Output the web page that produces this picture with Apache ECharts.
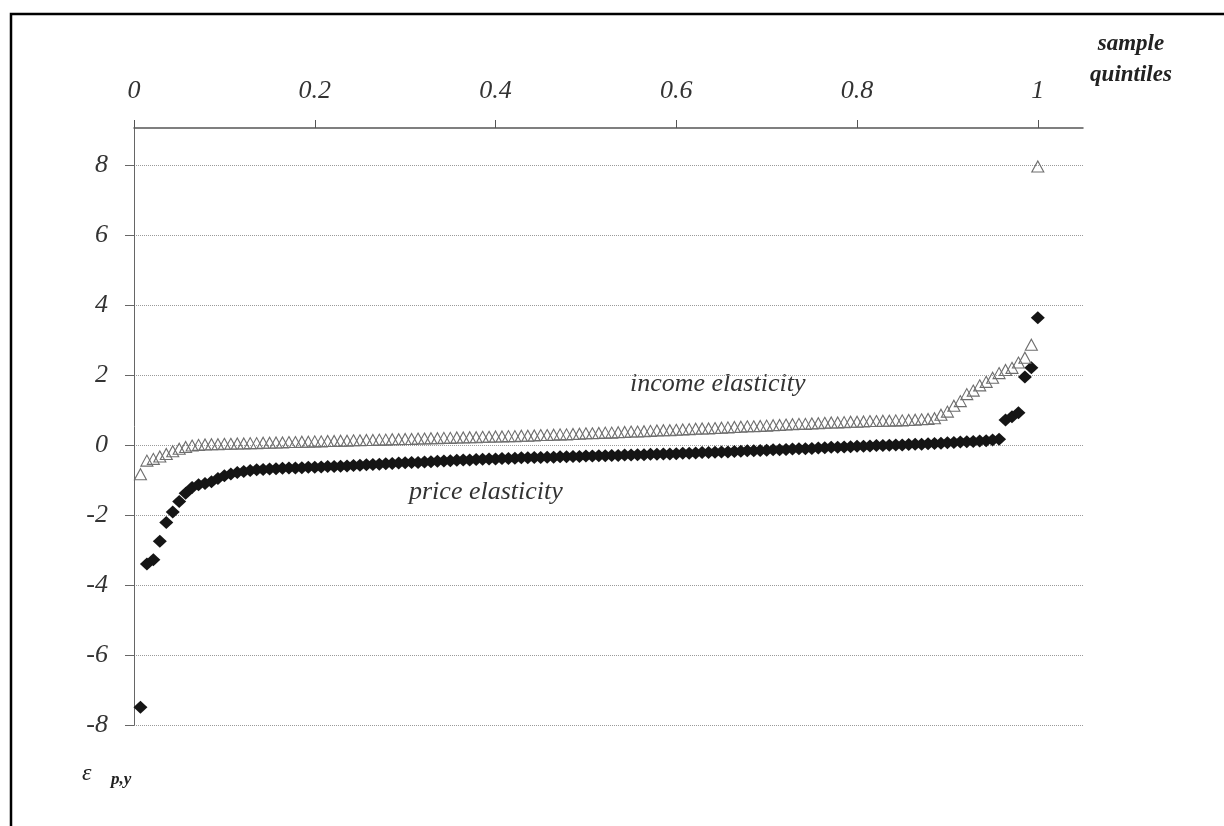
<!DOCTYPE html>
<html>
<head>
<meta charset="utf-8">
<script src="https://cdn.jsdelivr.net/npm/echarts@6/dist/echarts.min.js"></script>
<style>
html,body{margin:0;padding:0;background:#fff;}
#chart{width:1224px;height:826px;}
</style>
</head>
<body>
<div id="chart"></div>
<script>
// Tick labels
var xTickValues = [0, 0.2, 0.4, 0.6, 0.8, 1];
var yTickValues = [-8, -6, -4, -2, 0, 2, 4, 6, 8];

// Sorted price elasticities (black diamonds), in sample order
var priceElasticity = [
  -7.49, -3.40, -3.28, -2.75, -2.22, -1.92, -1.62, -1.38, -1.22, -1.14,
  -1.10, -1.05, -0.96, -0.88, -0.83, -0.79, -0.76, -0.73, -0.71, -0.70,
  -0.69, -0.68, -0.67, -0.66, -0.66, -0.65, -0.64, -0.64, -0.63, -0.62,
  -0.62, -0.61, -0.60, -0.59, -0.58, -0.57, -0.56, -0.55, -0.54, -0.53,
  -0.52, -0.51, -0.50, -0.50, -0.49, -0.48, -0.47, -0.46, -0.45, -0.44,
  -0.43, -0.43, -0.42, -0.41, -0.40, -0.40, -0.39, -0.39, -0.38, -0.37,
  -0.37, -0.36, -0.36, -0.35, -0.35, -0.34, -0.34, -0.33, -0.33, -0.32,
  -0.32, -0.31, -0.31, -0.30, -0.30, -0.29, -0.29, -0.28, -0.28, -0.27,
  -0.27, -0.26, -0.26, -0.25, -0.24, -0.24, -0.23, -0.22, -0.22, -0.21,
  -0.20, -0.20, -0.19, -0.18, -0.17, -0.17, -0.16, -0.15, -0.14, -0.14,
  -0.13, -0.12, -0.11, -0.11, -0.10, -0.09, -0.08, -0.07, -0.07, -0.06,
  -0.05, -0.04, -0.04, -0.03, -0.02, -0.02, -0.01, 0.00, 0.00, 0.01,
  0.02, 0.02, 0.03, 0.04, 0.05, 0.06, 0.07, 0.08, 0.09, 0.10,
  0.11, 0.12, 0.14, 0.16, 0.71, 0.80, 0.92, 1.94, 2.20, 3.63
];

// Sorted income elasticities (open triangles), in sample order
var incomeElasticity = [
  -0.84, -0.45, -0.40, -0.33, -0.26, -0.18, -0.11, -0.06, -0.02, 0.00,
  0.01, 0.02, 0.02, 0.03, 0.03, 0.04, 0.04, 0.05, 0.05, 0.06,
  0.06, 0.07, 0.07, 0.08, 0.08, 0.09, 0.09, 0.10, 0.10, 0.11,
  0.11, 0.12, 0.12, 0.13, 0.13, 0.14, 0.14, 0.15, 0.15, 0.16,
  0.16, 0.17, 0.17, 0.18, 0.18, 0.19, 0.19, 0.20, 0.20, 0.21,
  0.21, 0.22, 0.22, 0.23, 0.23, 0.24, 0.24, 0.25, 0.25, 0.26,
  0.26, 0.27, 0.28, 0.28, 0.29, 0.30, 0.30, 0.31, 0.32, 0.33,
  0.33, 0.34, 0.35, 0.35, 0.36, 0.37, 0.38, 0.38, 0.39, 0.40,
  0.41, 0.42, 0.42, 0.43, 0.44, 0.45, 0.46, 0.47, 0.47, 0.48,
  0.49, 0.50, 0.51, 0.52, 0.53, 0.53, 0.54, 0.55, 0.56, 0.57,
  0.58, 0.59, 0.60, 0.60, 0.61, 0.62, 0.63, 0.64, 0.64, 0.65,
  0.66, 0.66, 0.67, 0.68, 0.68, 0.69, 0.69, 0.70, 0.70, 0.71,
  0.72, 0.73, 0.74, 0.76, 0.86, 0.95, 1.12, 1.25, 1.45, 1.55,
  1.70, 1.80, 1.92, 2.05, 2.14, 2.20, 2.35, 2.49, 2.86, 7.95
];

// Sample quantile position of each sorted observation (rank / n)
function withRank(values) {
  var n = values.length;
  return values.map(function (v, i) { return [(i + 1) / n, v]; });
}

var serif = '"Liberation Serif", "DejaVu Serif", serif';
var chart = echarts.init(document.getElementById('chart'), null, {renderer: 'canvas'});

chart.setOption({
  backgroundColor: '#ffffff',
  animation: false,
  grid: {left: 134, right: 141, top: 128, bottom: 101, containLabel: false},
  xAxis: {
    type: 'value',
    position: 'top',
    min: 0,
    max: 1.05,
    interval: 0.2,
    axisLine: {show: true, onZero: false, lineStyle: {color: '#555', width: 1.5}},
    axisTick: {show: true, inside: false, length: 8, customValues: xTickValues,
               lineStyle: {color: '#555', width: 1}},
    axisLabel: {show: true, customValues: xTickValues, margin: 24,
                fontFamily: serif, fontStyle: 'italic', fontSize: 26, color: '#333'},
    splitLine: {show: false}
  },
  yAxis: {
    type: 'value',
    min: -8,
    max: 9.05,
    interval: 2,
    axisLine: {show: true, onZero: false, lineStyle: {color: '#666', width: 1}},
    axisTick: {show: true, inside: false, length: 9, customValues: yTickValues,
               lineStyle: {color: '#666', width: 1}},
    axisLabel: {show: true, customValues: yTickValues, margin: 26,
                fontFamily: serif, fontStyle: 'italic', fontSize: 26, color: '#333'},
    splitLine: {show: true, lineStyle: {color: '#9a9a9a', width: 1, type: 'dotted'}}
  },
  series: [
    {
      name: 'price elasticity',
      type: 'scatter',
      data: withRank(priceElasticity),
      symbol: 'diamond',
      symbolSize: [14, 13],
      itemStyle: {color: '#151515', opacity: 1},
      z: 2
    },
    {
      name: 'income elasticity',
      type: 'scatter',
      data: withRank(incomeElasticity),
      symbol: 'triangle',
      symbolSize: [12, 11],
      itemStyle: {color: 'rgba(255,255,255,0)', borderColor: '#6e6e6e', borderWidth: 1.1, opacity: 1},
      z: 3
    }
  ],
  graphic: [
    {type: 'polyline', shape: {points: [[11, 826], [11, 14], [1224, 14]]},
     style: {stroke: '#000', lineWidth: 2.5, fill: null}, silent: true},
    {type: 'text', left: 630, top: 371,
     style: {text: 'income elasticity', font: 'italic 26px ' + serif, fill: '#333'}},
    {type: 'text', left: 409, top: 479,
     style: {text: 'price elasticity', font: 'italic 26px ' + serif, fill: '#333'}},
    {type: 'text', x: 1131, y: 33,
     style: {text: 'sample', font: 'italic bold 23px ' + serif, fill: '#222', align: 'center'}},
    {type: 'text', x: 1131, y: 64,
     style: {text: 'quintiles', font: 'italic bold 23px ' + serif, fill: '#222', align: 'center'}},
    {type: 'text', left: 82, top: 762,
     style: {text: 'ε', font: 'italic 24px ' + serif, fill: '#222'}},
    {type: 'text', left: 111, top: 771,
     style: {text: 'p,y', font: 'italic bold 17px ' + serif, fill: '#222'}}
  ]
});
</script>
</body>
</html>
